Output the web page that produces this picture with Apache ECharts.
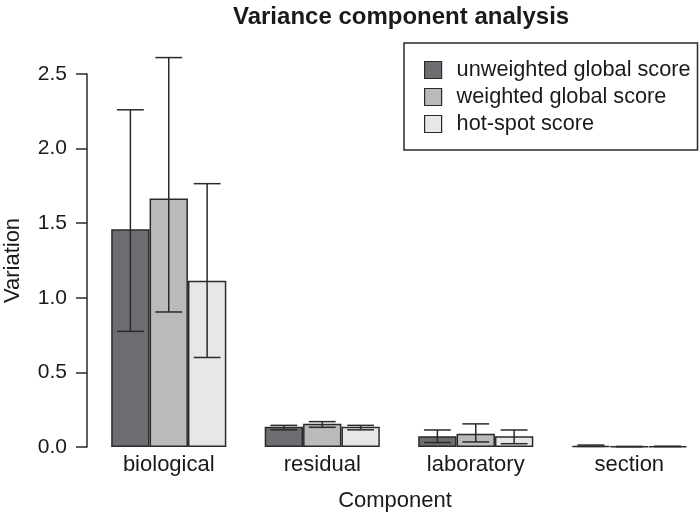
<!DOCTYPE html>
<html><head><meta charset="utf-8">
<script src="https://cdn.jsdelivr.net/npm/echarts@6/dist/echarts.min.js"></script>
<style>html,body{margin:0;padding:0;background:#fff}#c{width:700px;height:517px}</style>
</head><body><div id="c"></div>
<script>
var categories = ['biological', 'residual', 'laboratory', 'section'];
var seriesNames = ['unweighted global score', 'weighted global score', 'hot-spot score'];
var unweighted = [1.46, 0.135, 0.072, 0.008];
var weighted = [1.665, 0.155, 0.089, 0.003];
var hotspot = [1.115, 0.135, 0.072, 0.004];
var unweightedLow = [0.775, 0.115, 0.030, 0.004];
var unweightedHigh = [2.26, 0.145, 0.114, 0.013];
var weightedLow = [0.905, 0.132, 0.034, 0.002];
var weightedHigh = [2.61, 0.170, 0.155, 0.004];
var hotspotLow = [0.600, 0.115, 0.022, 0.003];
var hotspotHigh = [1.765, 0.145, 0.114, 0.005];
var yTicks = [0, 0.5, 1.0, 1.5, 2.0, 2.5];

var colors = ['#6d6e71', '#b9babc', '#e6e7e8'];
var values = [unweighted, weighted, hotspot];
var lows = [unweightedLow, weightedLow, hotspotLow];
var highs = [unweightedHigh, weightedHigh, hotspotHigh];

var errData = [];
for (var s = 0; s < 3; s++) {
  for (var i = 0; i < categories.length; i++) {
    errData.push([i, lows[s][i], highs[s][i], s]);
  }
}

var font = '"Liberation Sans", Arial, Helvetica, sans-serif';
var chart = echarts.init(document.getElementById('c'));
var series = seriesNames.map(function (n, s) {
  return {
    name: n, type: 'bar', data: values[s], barGap: '0%', barCategoryGap: '25%', z: 2,
    itemStyle: { color: colors[s], borderColor: '#2a2a2a', borderWidth: 1.5 },
    animation: false
  };
});
series.push({
  type: 'custom', data: errData, clip: false, animation: false, silent: true, z: 10,
  encode: { x: 0, y: [1, 2] },
  renderItem: function (params, api) {
    var ci = api.value(0), lo = api.value(1), hi = api.value(2), s = api.value(3);
    var band = api.size([1, 0])[0];
    var bw = band * 0.75 / 3;
    var c0 = api.coord([ci, lo]);
    var c1 = api.coord([ci, hi]);
    var x = c0[0] + (s - 1) * bw;
    var half = bw * 0.35;
    var st = { stroke: '#2a2a2a', lineWidth: 1.5 };
    return { type: 'group', children: [
      { type: 'line', z2: 10, shape: { x1: x, y1: c0[1], x2: x, y2: c1[1] }, style: st },
      { type: 'line', z2: 10, shape: { x1: x - half, y1: c0[1], x2: x + half, y2: c0[1] }, style: st },
      { type: 'line', z2: 10, shape: { x1: x - half, y1: c1[1], x2: x + half, y2: c1[1] }, style: st }
    ]};
  }
});

chart.setOption({
  backgroundColor: '#fff',
  animation: false,
  title: {
    text: 'Variance component analysis', left: 228, top: 0,
    textStyle: { fontFamily: font, fontWeight: 'bold', fontSize: 24, color: '#1a1a1a' }
  },
  legend: {
    orient: 'vertical', left: 404, top: 43,
    data: seriesNames,
    itemWidth: 17, itemHeight: 17, itemGap: 5,
    padding: [16, 7, 15, 20],
    borderColor: '#2a2a2a', borderWidth: 1.5, backgroundColor: '#fff',
    icon: 'rect',
    itemStyle: { borderColor: '#2a2a2a', borderWidth: 1.2 },
    textStyle: { fontFamily: font, fontSize: 21.7, color: '#1a1a1a', padding: [0, 0, 0, 10] }
  },
  grid: { left: 92, top: 74, width: 614, height: 373, outerBoundsMode: 'none', containLabel: false },
  xAxis: {
    type: 'category', data: categories,
    axisLine: { show: false }, axisTick: { show: false },
    axisLabel: { fontFamily: font, fontSize: 22, color: '#1a1a1a', margin: 7 },
    name: 'Component', nameLocation: 'middle', nameGap: 43,
    nameTextStyle: { fontFamily: font, fontSize: 22, color: '#1a1a1a', padding: [0, 8, 0, 0] }
  },
  yAxis: {
    type: 'value', min: 0, max: 2.5, interval: 0.5, offset: 5,
    splitLine: { show: false },
    axisLine: { show: true, lineStyle: { color: '#2a2a2a', width: 1.5 } },
    axisTick: { show: true, length: 11, lineStyle: { color: '#2a2a2a', width: 1.5 } },
    axisLabel: { fontFamily: font, fontSize: 21, color: '#1a1a1a', margin: 20,
      formatter: function (v) { return v.toFixed(1); } },
    name: 'Variation', nameLocation: 'middle', nameGap: 63, nameRotate: 90,
    nameTextStyle: { fontFamily: font, fontSize: 22, color: '#1a1a1a' }
  },
  series: series
});
</script></body></html>
